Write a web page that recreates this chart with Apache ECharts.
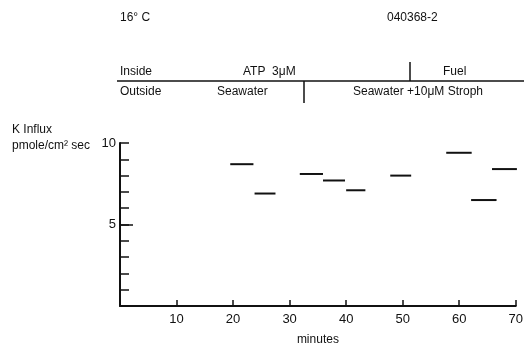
<!DOCTYPE html>
<html>
<head>
<meta charset="utf-8">
<script src="https://cdn.jsdelivr.net/npm/echarts@6/dist/echarts.min.js"></script>
<style>
  html, body { margin: 0; padding: 0; background: #fff; }
  #chart { width: 526px; height: 347px; }
</style>
</head>
<body>
<div id="chart"></div>
<script>
// K influx measurement periods (minutes) and values (pmole/cm2 sec)
const startMin = [19.5, 23.8, 31.8, 35.9, 40.0, 47.8, 57.7, 62.1, 65.8];
const endMin   = [23.6, 27.5, 35.9, 39.8, 43.4, 51.5, 62.2, 66.6, 70.2];
const influx   = [8.7, 6.9, 8.1, 7.7, 7.1, 8.0, 9.4, 6.5, 8.4];
const yLabels  = [5, 10];

const font = 'Liberation Sans';
const ink = '#111';

const data = startMin.map((s, i) => [s, endMin[i], influx[i]]);

const chart = echarts.init(document.getElementById('chart'));

chart.setOption({
  backgroundColor: '#fff',
  animation: false,
  textStyle: { fontFamily: font, color: ink },
  grid: { left: 120, right: 6, top: 143, bottom: 38 },
  xAxis: {
    type: 'value',
    min: 0, max: 70, interval: 10,
    name: 'minutes',
    nameLocation: 'middle',
    nameGap: 28,
    nameTextStyle: { fontFamily: font, fontSize: 12, color: ink },
    axisLine: { lineStyle: { color: ink, width: 2 } },
    axisTick: { inside: true, length: 6, lineStyle: { color: ink, width: 1.5 } },
    axisLabel: {
      fontFamily: font, fontSize: 13, color: ink, margin: 7,
      formatter: v => (v === 0 ? '' : v)
    },
    splitLine: { show: false }
  },
  yAxis: {
    type: 'value',
    min: 0, max: 10, interval: 1,
    axisLine: { show: true, lineStyle: { color: ink, width: 2 } },
    axisTick: { inside: true, length: 9, lineStyle: { color: ink, width: 1.5 } },
    axisLabel: {
      fontFamily: font, fontSize: 13, color: ink, margin: 4,
      formatter: v => (yLabels.indexOf(v) >= 0 ? v : '')
    },
    splitLine: { show: false }
  },
  series: [{
    type: 'custom',
    clip: false,
    encode: { x: [0, 1], y: 2 },
    data: data,
    renderItem: function (params, api) {
      const a = api.coord([api.value(0), api.value(2)]);
      const b = api.coord([api.value(1), api.value(2)]);
      return {
        type: 'line',
        shape: { x1: a[0], y1: a[1], x2: b[0], y2: b[1] },
        style: { stroke: ink, lineWidth: 2 }
      };
    },
    // longer tick at the labelled 5 mark
    markLine: {
      silent: true,
      symbol: 'none',
      label: { show: false },
      lineStyle: { color: ink, width: 1.5, type: 'solid' },
      data: [[{ coord: [0, 5] }, { coord: [2.3, 5] }]]
    }
  }],
  graphic: [
    { type: 'text', left: 120, top: 12, style: { text: '16° C', font: '12px ' + font, fill: ink } },
    { type: 'text', left: 387, top: 12, style: { text: '040368-2', font: '12px ' + font, fill: ink } },
    { type: 'text', left: 12, top: 124, style: { text: 'K Influx', font: '12px ' + font, fill: ink } },
    { type: 'text', left: 12, top: 140, style: { text: 'pmole/cm² sec', font: '12px ' + font, fill: ink } },
    // condition bar
    { type: 'line', shape: { x1: 117, y1: 81, x2: 524, y2: 81 }, style: { stroke: ink, lineWidth: 1.5 } },
    { type: 'line', shape: { x1: 304, y1: 81, x2: 304, y2: 103 }, style: { stroke: ink, lineWidth: 1.5 } },
    { type: 'line', shape: { x1: 410, y1: 62, x2: 410, y2: 81 }, style: { stroke: ink, lineWidth: 1.5 } },
    { type: 'text', left: 120, top: 66, style: { text: 'Inside', font: '12px ' + font, fill: ink } },
    { type: 'text', left: 243, top: 66, style: { text: 'ATP  3μM', font: '12px ' + font, fill: ink } },
    { type: 'text', left: 443, top: 66, style: { text: 'Fuel', font: '12px ' + font, fill: ink } },
    { type: 'text', left: 120, top: 86, style: { text: 'Outside', font: '12px ' + font, fill: ink } },
    { type: 'text', left: 217, top: 86, style: { text: 'Seawater', font: '12px ' + font, fill: ink } },
    { type: 'text', left: 353, top: 86, style: { text: 'Seawater +10μM Stroph', font: '12px ' + font, fill: ink } }
  ]
});
</script>
</body>
</html>
